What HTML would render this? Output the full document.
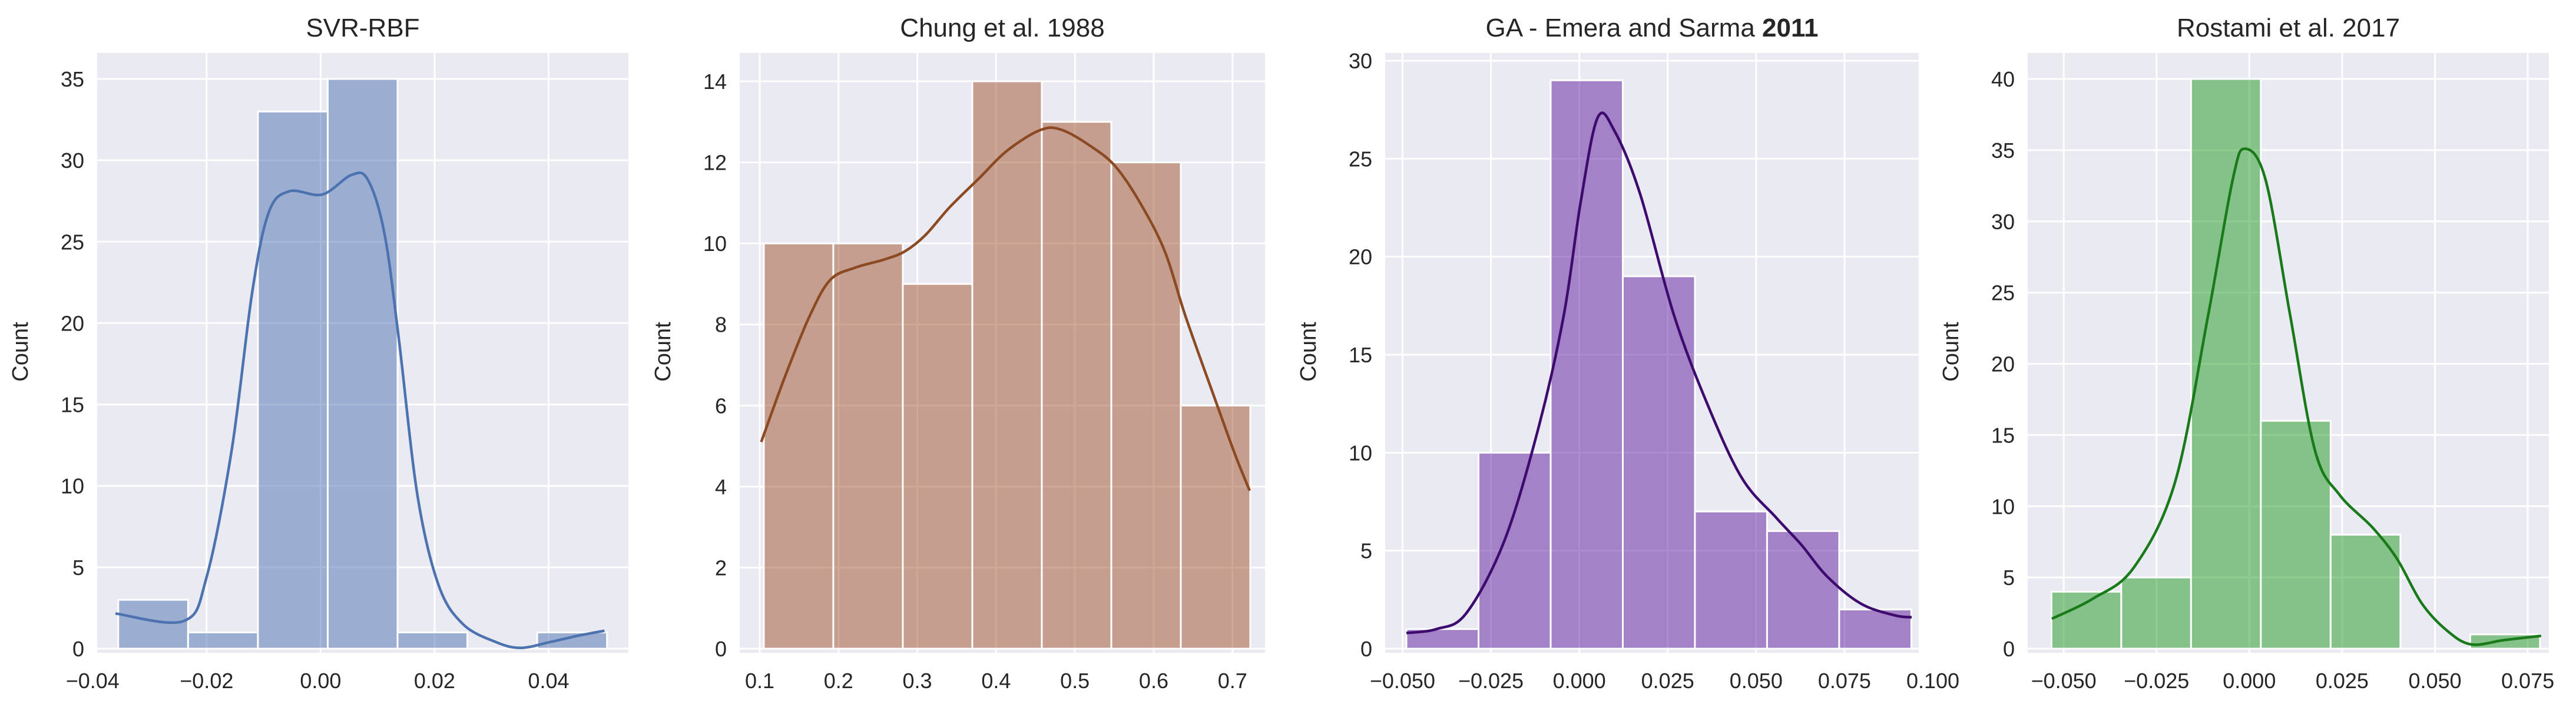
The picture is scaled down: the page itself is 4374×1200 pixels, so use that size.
<!DOCTYPE html>
<html><head><meta charset="utf-8">
<style>
html,body{margin:0;padding:0;background:#fff;}
svg{display:block;font-family:"Liberation Sans",sans-serif;}
</style></head>
<body>
<svg id="chart" width="4374" height="1200" viewBox="0 0 4374 1200" xmlns="http://www.w3.org/2000/svg"></svg>
<script>
// ---- Panel 1: SVR-RBF ----
const p1BinStart = -0.0355;
const p1BinWidth = 0.01225;
const p1Counts = [3, 1, 33, 35, 1, 0, 1];
const p1KdeX = [-0.0360,-0.0240,-0.0200,-0.0156,-0.0120,-0.0091,-0.0055,0.0003,0.0054,0.0083,0.0112,0.0137,0.0170,0.0207,0.0250,0.0308,0.0351,0.0402,0.0452,0.0498];
const p1KdeY = [2.16,1.7,4.4,12.2,21.9,26.8,28.1,27.9,29.1,28.8,25.5,19.1,9.4,3.9,1.5,0.4,0.05,0.4,0.8,1.1];
const p1XTicks = [-0.04,-0.02,0,0.02,0.04];
const p1XLabels = ["\u22120.04","\u22120.02","0.00","0.02","0.04"];
const p1YTicks = [0,5,10,15,20,25,30,35];

// ---- Panel 2: Chung et al. 1988 ----
const p2BinStart = 0.1052;
const p2BinWidth = 0.0882;
const p2Counts = [10, 10, 9, 14, 13, 12, 6];
const p2KdeX = [0.1019,0.1318,0.1632,0.1895,0.2209,0.2576,0.2839,0.3100,0.3414,0.3780,0.4147,0.4565,0.4834,0.5200,0.5514,0.5828,0.6142,0.6404,0.6770,0.7031,0.7218];
const p2KdeY = [5.1,6.7,8.2,9.1,9.4,9.6,9.8,10.2,10.9,11.6,12.3,12.8,12.8,12.4,11.9,11.0,9.8,8.2,6.2,4.8,3.9];
const p2XTicks = [0.1,0.2,0.3,0.4,0.5,0.6,0.7];
const p2XLabels = ["0.1","0.2","0.3","0.4","0.5","0.6","0.7"];
const p2YTicks = [0,2,4,6,8,10,12,14];

// ---- Panel 3: GA - Emera and Sarma 2011 ----
const p3BinStart = -0.0489;
const p3BinWidth = 0.0204;
const p3Counts = [1, 10, 29, 19, 7, 6, 2];
const p3KdeX = [-0.0489,-0.0404,-0.0320,-0.0212,-0.0115,-0.0044,0.0004,0.0052,0.0100,0.0172,0.0268,0.0364,0.0460,0.0556,0.0628,0.0700,0.0796,0.0892,0.0940];
const p3KdeY = [0.8,1.0,1.8,5.5,11.3,17.0,22.8,27.1,26.4,23.2,17.0,12.4,8.7,6.7,5.3,3.7,2.3,1.7,1.6];
const p3XTicks = [-0.05,-0.025,0,0.025,0.05,0.075,0.1];
const p3XLabels = ["\u22120.050","\u22120.025","0.000","0.025","0.050","0.075","0.100"];
const p3YTicks = [0,5,10,15,20,25,30];

// ---- Panel 4: Rostami et al. 2017 ----
const p4BinStart = -0.0533;
const p4BinWidth = 0.0188;
const p4Counts = [4, 5, 40, 16, 8, 0, 1];
const p4KdeX = [-0.0532,-0.0422,-0.0311,-0.0200,-0.0111,-0.0045,-0.0012,0.0044,0.0110,0.0177,0.0243,0.0332,0.0398,0.0464,0.0531,0.0597,0.0686,0.0786];
const p4KdeY = [2.1,3.5,5.7,11.7,23.4,32.9,35.1,32.9,23.4,13.9,10.8,8.5,6.3,3.2,1.3,0.3,0.6,0.9];
const p4XTicks = [-0.05,-0.025,0,0.025,0.05,0.075];
const p4XLabels = ["\u22120.050","\u22120.025","0.000","0.025","0.050","0.075"];
const p4YTicks = [0,5,10,15,20,25,30,35,40];

const NS = "http://www.w3.org/2000/svg";
const svg = document.getElementById("chart");
function mk(tag, attrs, parent){
  const e = document.createElementNS(NS, tag);
  for (const k in attrs) e.setAttribute(k, attrs[k]);
  (parent||svg).appendChild(e);
  return e;
}

const panels = [
  {key:"svr-rbf", title:[["SVR-RBF",false]], left:165, right:1067, x0:-0.0392, x1:0.0540, ymaxTick:35, ymaxPx:134,
   binStart:p1BinStart, binWidth:p1BinWidth, counts:p1Counts, kx:p1KdeX, ky:p1KdeY, xt:p1XTicks, xl:p1XLabels, yt:p1YTicks,
   fill:"#4c72b0", line:"#4c72b0"},
  {key:"chung-1988", title:[["Chung et al.  1988",false]], left:1256, right:2148, x0:0.0746, x1:0.7413, ymaxTick:14, ymaxPx:138,
   binStart:p2BinStart, binWidth:p2BinWidth, counts:p2Counts, kx:p2KdeX, ky:p2KdeY, xt:p2XTicks, xl:p2XLabels, yt:p2YTicks,
   fill:"#a0522d", line:"#8b4a22"},
  {key:"ga-emera-sarma-2011", title:[["GA - Emera and Sarma  ",false],["2011",true]], left:2352, right:3258, x0:-0.0549, x1:0.0960, ymaxTick:30, ymaxPx:103,
   binStart:p3BinStart, binWidth:p3BinWidth, counts:p3Counts, kx:p3KdeX, ky:p3KdeY, xt:p3XTicks, xl:p3XLabels, yt:p3YTicks,
   fill:"#5e1a9e", line:"#3d0a6e"},
  {key:"rostami-2017", title:[["Rostami et al.  2017",false]], left:3443, right:4328, x0:-0.0597, x1:0.0807, ymaxTick:40, ymaxPx:134,
   binStart:p4BinStart, binWidth:p4BinWidth, counts:p4Counts, kx:p4KdeX, ky:p4KdeY, xt:p4XTicks, xl:p4XLabels, yt:p4YTicks,
   fill:"#1f9a1f", line:"#187a18"}
];

const TOP = 90, BOTTOM = 1108, Y0 = 1101;

panels.forEach(p => {
  const g = mk("g", {});
  
  
  const sx = v => p.left + (v - p.x0) / (p.x1 - p.x0) * (p.right - p.left);
  const sy = c => Y0 - c * (Y0 - p.ymaxPx) / p.ymaxTick;

  const bg = mk("rect", {x:p.left, y:TOP, width:p.right-p.left, height:BOTTOM-TOP, fill:"#eaeaf2"}, g);
  
  

  // grid
  p.xt.forEach(t => {
    const l = mk("line", {x1:sx(t), x2:sx(t), y1:TOP, y2:BOTTOM, stroke:"#fff", "stroke-width":3}, g);
    
    
  });
  p.yt.forEach(t => {
    const l = mk("line", {x1:p.left, x2:p.right, y1:sy(t), y2:sy(t), stroke:"#fff", "stroke-width":3}, g);
    
    
  });

  // bars
  p.counts.forEach((c, i) => {
    if (c <= 0) return;
    const xa = sx(p.binStart + i * p.binWidth), xb = sx(p.binStart + (i + 1) * p.binWidth);
    const r = mk("rect", {x:xa, y:sy(c), width:xb-xa, height:Y0-sy(c), fill:p.fill, "fill-opacity":0.5, stroke:"#fff", "stroke-width":3}, g);
    
    
  });

  // kde (Catmull-Rom)
  const pts = p.kx.map((x, i) => [sx(x), sy(p.ky[i])]);
  let d = "M" + pts[0][0] + "," + pts[0][1];
  for (let i = 0; i < pts.length - 1; i++) {
    const a = pts[Math.max(i-1,0)], b = pts[i], c = pts[i+1], e = pts[Math.min(i+2, pts.length-1)];
    const c1 = [b[0] + (c[0]-a[0])/6, b[1] + (c[1]-a[1])/6];
    const c2 = [c[0] - (e[0]-b[0])/6, c[1] - (e[1]-b[1])/6];
    d += " C" + c1[0] + "," + c1[1] + " " + c2[0] + "," + c2[1] + " " + c[0] + "," + c[1];
  }
  const kde = mk("path", {d:d, fill:"none", stroke:p.line, "stroke-width":4.5, "stroke-linejoin":"round"}, g);
  
  

  // tick labels
  p.xt.forEach((t, i) => {
    const tx = mk("text", {x:sx(t), y:1168, "text-anchor":"middle", "font-size":36, fill:"#262626"}, g);
    tx.textContent = p.xl[i];
    
    
  });
  p.yt.forEach(t => {
    const tx = mk("text", {x:p.left-22, y:sy(t)+13, "text-anchor":"end", "font-size":36, fill:"#262626"}, g);
    tx.textContent = String(t);
    
    
  });

  // y axis title
  const yl = mk("text", {x:0, y:0, "text-anchor":"middle", "font-size":38, fill:"#262626",
    transform:"translate(" + (p.left - 118) + ",597) rotate(-90)"}, g);
  yl.textContent = "Count";
  
  

  // title
  const tt = mk("text", {x:(p.left+p.right)/2, y:62, "text-anchor":"middle", "font-size":44, fill:"#262626"}, g);
  
  
  p.title.forEach(seg => {
    const ts = mk("tspan", {"font-weight": seg[1] ? "bold" : "normal"}, tt);
    ts.textContent = seg[0];
  });
});
</script>
</body></html>
